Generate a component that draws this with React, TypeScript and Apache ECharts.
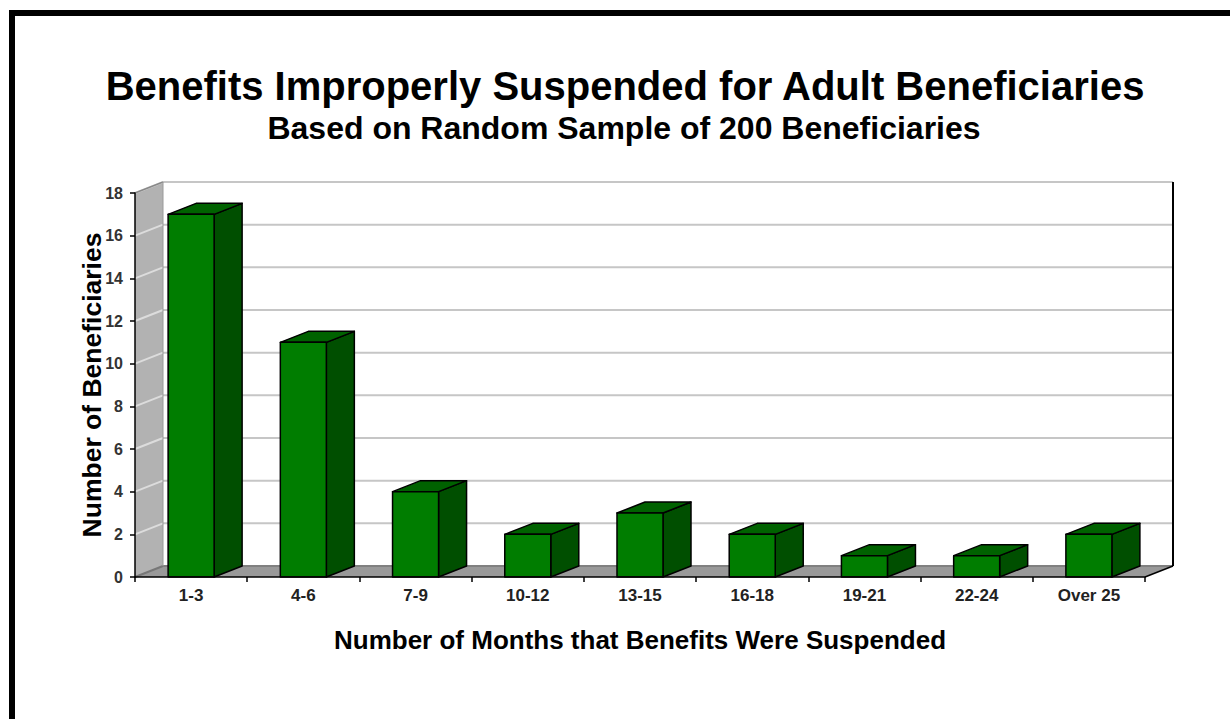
import React, { useEffect, useRef } from 'react';
import * as echarts from 'echarts';

const categories = ['1-3', '4-6', '7-9', '10-12', '13-15', '16-18', '19-21', '22-24', 'Over 25'];
const counts = [17, 11, 4, 2, 3, 2, 1, 1, 2];
const yTicks = [0, 2, 4, 6, 8, 10, 12, 14, 16, 18];

const titleText = 'Benefits Improperly Suspended for Adult Beneficiaries';
const subtitleText = 'Based on Random Sample of 200 Beneficiaries';
const xName = 'Number of Months that Benefits Were Suspended';
const yName = 'Number of Beneficiaries';

const DX = 28;
const DY = -11;
const FONT = "'Liberation Sans', Arial, Helvetica, sans-serif";

export default function App() {
  const ref = useRef<HTMLDivElement>(null);
  useEffect(() => {
    document.body.style.margin = '0';
    const chart = echarts.init(ref.current as HTMLDivElement, null, { renderer: 'svg' });

    const wallRender = (params: any, api: any) => {
      const cs = params.coordSys;
      const x0 = cs.x;
      const x1 = cs.x + cs.width;
      const y0 = api.coord([0, 0])[1];
      const yTop = api.coord([0, yTicks[yTicks.length - 1]])[1];
      const children: any[] = [];
      children.push({
        type: 'polygon',
        shape: { points: [[x0, yTop], [x0 + DX, yTop + DY], [x0 + DX, y0 + DY], [x0, y0]] },
        style: { fill: '#b2b2b2', stroke: 'none' },
      });
      children.push({
        type: 'polygon',
        shape: { points: [[x0, y0], [x0 + DX, y0 + DY], [x1 + DX, y0 + DY], [x1, y0]] },
        style: { fill: '#999999', stroke: 'none' },
      });
      yTicks.forEach((v) => {
        const y = api.coord([0, v])[1];
        children.push({
          type: 'line',
          shape: { x1: x0, y1: y, x2: x0 + DX, y2: y + DY },
          style: { stroke: v === 0 ? '#777' : '#dcdcdc', lineWidth: 2 },
        });
        children.push({
          type: 'line',
          shape: { x1: x0 + DX, y1: y + DY, x2: x1 + DX, y2: y + DY },
          style: { stroke: v === 0 ? '#808080' : '#c6c6c6', lineWidth: 2 },
        });
      });
      children.push({
        type: 'line',
        shape: { x1: x0, y1: yTop, x2: x0 + DX, y2: yTop + DY },
        style: { stroke: '#888', lineWidth: 1.5 },
      });
      children.push({
        type: 'line',
        shape: { x1: x0 + DX, y1: yTop + DY, x2: x0 + DX, y2: y0 + DY },
        style: { stroke: '#9a9a9a', lineWidth: 1 },
      });
      children.push({
        type: 'line',
        shape: { x1: x1 + DX, y1: yTop + DY, x2: x1 + DX, y2: y0 + DY },
        style: { stroke: '#000', lineWidth: 2 },
      });
      children.push({
        type: 'line',
        shape: { x1: x1 + DX, y1: y0 + DY, x2: x1, y2: y0 },
        style: { stroke: '#000', lineWidth: 1.5 },
      });
      return { type: 'group', children };
    };

    const barRender = (params: any, api: any) => {
      const i = api.value(0);
      const v = api.value(1);
      const top = api.coord([i, v]);
      const base = api.coord([i, 0]);
      const w = api.size([1, 0])[0] * 0.41;
      const xl = top[0] - w / 2;
      const xr = top[0] + w / 2;
      const yt = top[1];
      const yb = base[1];
      const line = { stroke: '#000', lineWidth: 1.5, lineJoin: 'round' };
      return {
        type: 'group',
        children: [
          {
            type: 'polygon',
            shape: { points: [[xr, yt], [xr + DX, yt + DY], [xr + DX, yb + DY], [xr, yb]] },
            style: { fill: '#004f00', ...line },
          },
          {
            type: 'polygon',
            shape: { points: [[xl, yt], [xl + DX, yt + DY], [xr + DX, yt + DY], [xr, yt]] },
            style: { fill: '#006200', ...line },
          },
          {
            type: 'rect',
            shape: { x: xl, y: yt, width: w, height: yb - yt },
            style: { fill: '#007d00', ...line },
          },
        ],
      };
    };

    chart.setOption({
      animation: false,
      backgroundColor: '#ffffff',
      title: [
        {
          text: titleText,
          left: 620,
          top: 61,
          textAlign: 'center',
          textStyle: { fontSize: 40, fontWeight: 'bold', color: '#000', fontFamily: FONT },
        },
        {
          text: subtitleText,
          left: 619,
          top: 107,
          textAlign: 'center',
          textStyle: { fontSize: 32, fontWeight: 'bold', color: '#000', fontFamily: FONT },
        },
      ],
      grid: { left: 135, right: 85, top: 193, bottom: 142 },
      xAxis: {
        type: 'category',
        data: categories,
        z: 5,
        name: xName,
        nameLocation: 'middle',
        nameGap: 50,
        nameMoveOverlap: false,
        nameTextStyle: { fontSize: 26, fontWeight: 'bold', color: '#000', fontFamily: FONT },
        axisLine: { lineStyle: { color: '#000', width: 1.5 } },
        axisTick: { show: true, length: 5, lineStyle: { color: '#000', width: 1.5 } },
        axisLabel: { fontSize: 17, fontWeight: 'bold', color: '#222', margin: 10, fontFamily: FONT },
        splitLine: { show: false },
      },
      yAxis: {
        type: 'value',
        min: 0,
        max: 18,
        interval: 2,
        z: 5,
        name: yName,
        nameLocation: 'middle',
        nameGap: 30,
        nameMoveOverlap: false,
        nameTextStyle: { fontSize: 26.5, fontWeight: 'bold', color: '#000', fontFamily: FONT },
        axisLine: { show: true, lineStyle: { color: '#000', width: 1.5 } },
        axisTick: { show: true, length: 5, lineStyle: { color: '#000', width: 1.5 } },
        axisLabel: { fontSize: 16, fontWeight: 'bold', color: '#333', margin: 12, fontFamily: FONT },
        splitLine: { show: false },
      },
      series: [
        {
          type: 'custom',
          z: 1,
          silent: true,
          clip: false,
          data: [[0, 0]],
          renderItem: wallRender,
        },
        {
          type: 'custom',
          z: 2,
          clip: false,
          data: counts.map((v, i) => [i, v]),
          encode: { x: 0, y: 1 },
          renderItem: barRender,
        },
      ],
      graphic: [
        {
          type: 'rect',
          z: 100,
          silent: true,
          shape: { x: 12, y: 13, width: 1400, height: 900 },
          style: { fill: 'none', stroke: '#000', lineWidth: 6 },
        },
      ],
    });
    return () => chart.dispose();
  }, []);
  return <div ref={ref} style={{ position: 'fixed', left: 0, top: 0, width: 1230, height: 719 }} />;
}
